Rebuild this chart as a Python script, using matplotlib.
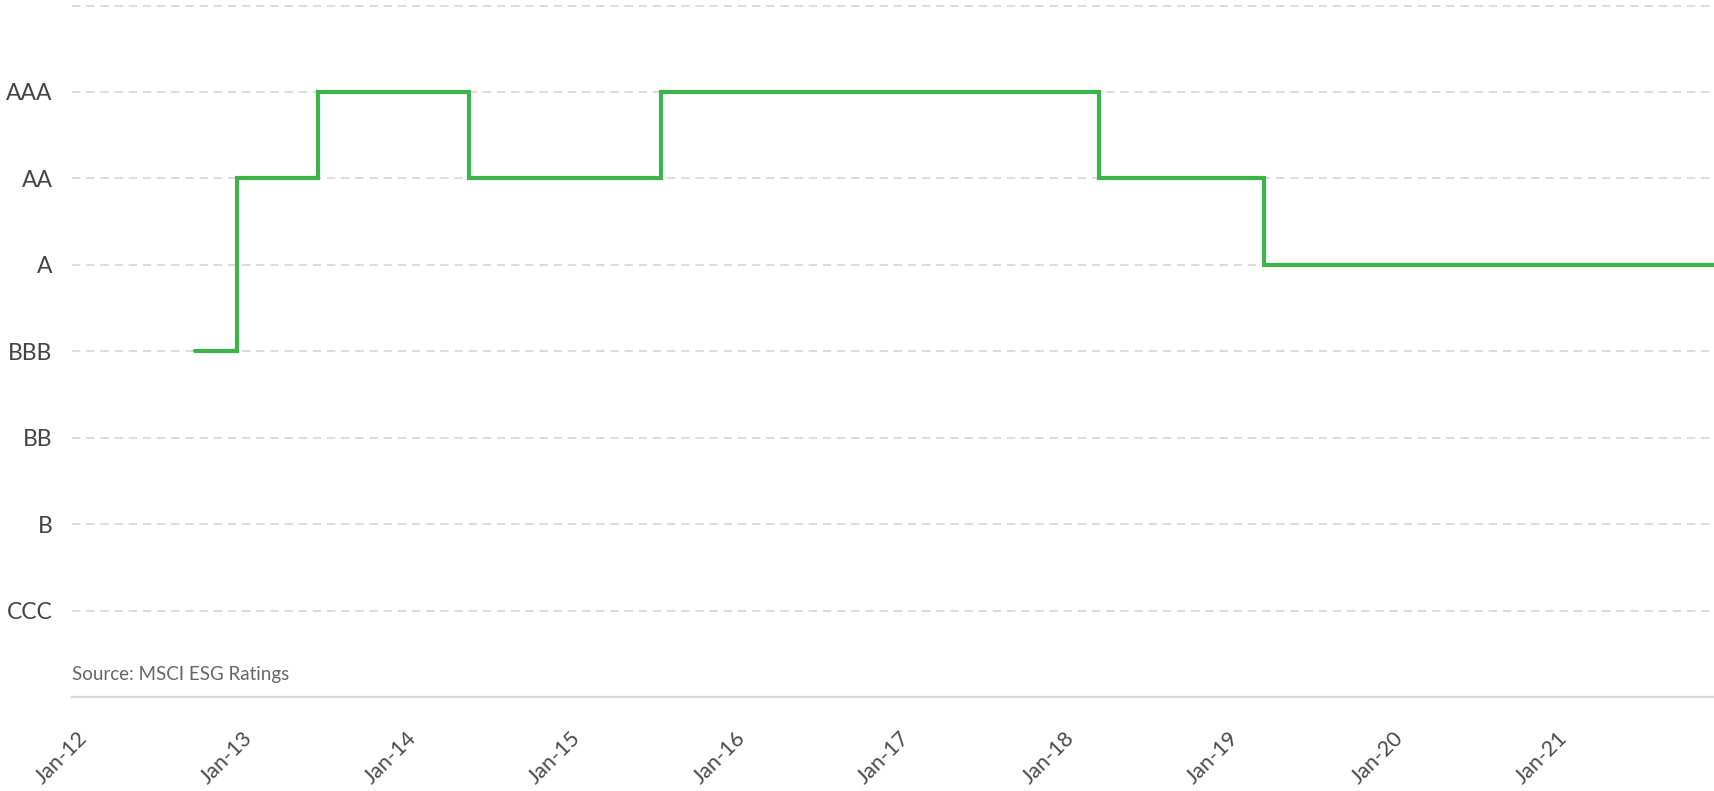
import matplotlib
matplotlib.use("Agg")
import matplotlib.pyplot as plt
import matplotlib.dates as mdates
import matplotlib.transforms as mtransforms
import numpy as np
import datetime as dt

plt.rcParams['font.family'] = ['Lato', 'DejaVu Sans']

# Rating scale
rating_labels = ["CCC", "B", "BB", "BBB", "A", "AA", "AAA"]
rating_values = [1, 2, 3, 4, 5, 6, 7]

# Rating history (date of change, rating)
change_dates = ["2012-10-01", "2013-01-01", "2013-07-01", "2014-06-01",
                "2015-08-01", "2018-04-01", "2019-04-01", "2021-12-28"]
change_ratings = ["BBB", "AA", "AAA", "AA", "AAA", "AA", "A", "A"]

# X tick labels
tick_years = [2012, 2013, 2014, 2015, 2016, 2017, 2018, 2019, 2020, 2021]
tick_labels = ["Jan-12", "Jan-13", "Jan-14", "Jan-15", "Jan-16",
               "Jan-17", "Jan-18", "Jan-19", "Jan-20", "Jan-21"]

source_text = "Source: MSCI ESG Ratings"

W, H = 1715, 791
fig = plt.figure(figsize=(W / 100, H / 100), dpi=100)
left_px, right_px, top_px, bot_px = 72, 1715, 1.2, 697.2
ax = fig.add_axes([left_px / W, 1 - bot_px / H, (right_px - left_px) / W, (bot_px - top_px) / H])

dates = [dt.datetime.strptime(d, "%Y-%m-%d") for d in change_dates]
rmap = dict(zip(rating_labels, rating_values))
yvals = [rmap[r] for r in change_ratings]

ax.plot(dates, yvals, drawstyle="steps-post", color="#3db449", lw=3,
        solid_joinstyle="miter", solid_capstyle="round", zorder=3)

ax.set_ylim(0, 8.05)
ax.set_xlim(dt.datetime(2012, 1, 1), dt.datetime(2021, 12, 28))

# grid lines (including empty top line)
for v in rating_values + [8]:
    ax.axhline(v, color="#d6d6d6", lw=1.2, dashes=(5, 3.5), zorder=1)

ax.set_yticks(rating_values)
ax.set_yticklabels(rating_labels)
ax.tick_params(axis="y", length=0, pad=14, labelsize=16.5, labelcolor="#444444")

ax.set_xticks([dt.datetime(y, 1, 1) for y in tick_years])
ax.set_xticklabels(tick_labels)
ax.tick_params(axis="x", length=0, pad=22, labelsize=15.5, labelcolor="#4a4a4a")
offset = mtransforms.ScaledTranslation(5 / 100, 0, fig.dpi_scale_trans)
for lbl in ax.get_xticklabels():
    lbl.set_rotation(45)
    lbl.set_ha("right")
    lbl.set_va("top")
    lbl.set_rotation_mode("anchor")
    lbl.set_transform(lbl.get_transform() + offset)

for s in ["top", "right", "left"]:
    ax.spines[s].set_visible(False)
ax.spines["bottom"].set_color("#d9d9d9")
ax.spines["bottom"].set_linewidth(1.6)

ax.text(0, 0.032, source_text, transform=ax.transAxes, ha="left", va="center",
        fontsize=13.5, color="#666666")

fig.savefig("out.png", dpi=100)
